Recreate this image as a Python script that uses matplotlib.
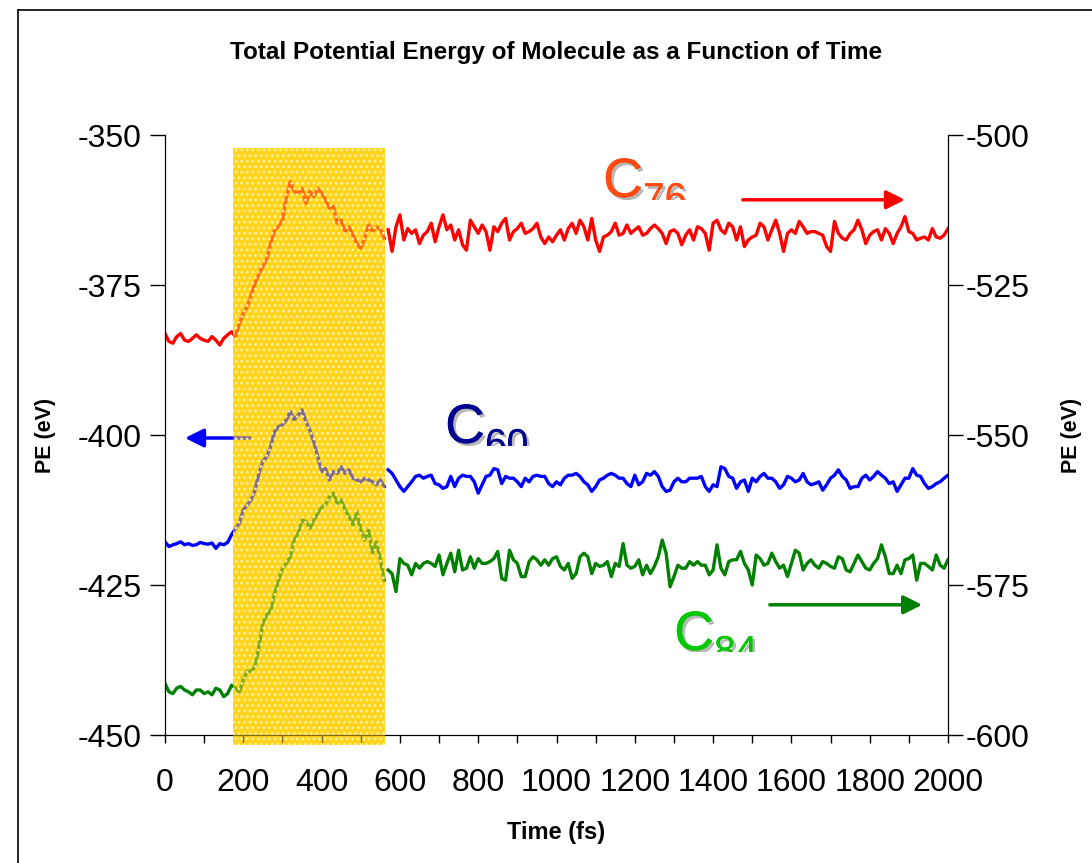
import numpy as np
import matplotlib.pyplot as plt
import matplotlib.patheffects as pe
from matplotlib.transforms import Bbox, TransformedBbox
from matplotlib.lines import Line2D

plt.rcParams['font.family'] = ['Liberation Sans', 'DejaVu Sans']
plt.rcParams['axes.unicode_minus'] = False

# time axis (fs): heating part (0-560) and equilibrated part (570-2000)
t_early = np.arange(0, 561, 10)
t_late = np.arange(570, 2001, 10)

# C60, left axis (eV)
c60_early = [-417.8, -418.6, -418.3, -418.1, -417.8, -418.3, -418.1, -418.4, -418.3, -417.9,
             -418.1, -418.2, -418.0, -418.9, -418.1, -418.3, -417.9, -416.6,
             -415.6, -414.7, -412.5, -411.7, -410.8, -409.2, -406.4, -404.4, -403.6, -401.9,
             -399.4, -398.6, -398.3, -397.5, -396.1, -397.5, -396.7, -395.8, -397.8, -399.2,
             -401.1, -403.6, -406.1, -405.6, -407.5, -406.1, -406.4, -405.3, -406.4, -405.8,
             -407.2, -407.5, -407.8, -407.2, -407.5, -407.8, -408.3, -407.5, -408.6]
c60_late = [-405.8, -406.4, -407.5, -408.6, -409.4, -408.6, -407.8, -406.9, -406.7, -407.2,
            -406.9, -406.7, -408.1, -408.3, -408.9, -408.6, -406.9, -408.6, -407.2, -406.7,
            -406.9, -406.9, -407.8, -409.7, -408.3, -406.9, -406.7, -405.6, -405.8, -408.1,
            -406.9, -407.2, -407.2, -407.8, -408.6, -407.2, -407.8, -406.9, -406.7, -406.9,
            -406.9, -408.1, -408.6, -407.8, -408.3, -407.2, -406.7, -406.7, -406.4, -406.9,
            -407.8, -408.3, -409.4, -408.6, -407.5, -407.2, -406.7, -406.4, -406.7, -407.2,
            -407.2, -408.1, -408.6, -406.7, -408.3, -407.8, -406.4, -406.7, -406.1, -406.9,
            -408.6, -409.4,
            -409.2, -407.8, -407.2, -407.8, -407.8, -407.2, -407.2, -407.2, -406.9, -408.6,
            -409.4, -408.3, -408.6, -405.3, -405.6, -406.9, -407.2, -408.9, -407.8, -407.5,
            -409.4, -407.2, -407.8, -406.9, -406.4, -407.2, -407.2, -407.8, -408.9, -408.3,
            -406.9, -407.2, -407.8, -407.5, -406.4, -407.8, -408.3, -408.1, -407.8, -409.2,
            -408.3, -407.2, -406.7, -405.8, -406.9, -407.5, -408.9, -408.6, -408.6, -407.2,
            -406.7, -407.5, -406.9, -406.1, -406.7, -407.2, -408.1, -407.8, -409.4, -408.3,
            -407.2, -407.2, -405.6, -406.7, -406.9, -408.1, -408.9, -408.6, -408.1, -407.8,
            -407.2, -406.7]

# C76, right axis (eV)
c76_early = [-533.1, -534.4, -534.7, -533.6, -533.1, -534.2, -534.4, -533.9, -533.3, -533.9,
             -534.2, -534.4, -533.6, -534.2, -535.0, -533.9, -533.3, -532.8,
             -533.6, -531.4, -529.7, -528.6, -526.7, -524.7, -523.1, -521.9, -520.6, -518.1,
             -515.8, -515.3, -514.2, -510.3, -507.8, -509.4, -509.7, -508.9, -511.4, -509.4,
             -510.3, -508.9, -509.7, -510.8, -512.2, -511.9, -514.7, -514.2, -516.1, -515.3,
             -516.7, -518.1, -518.9, -517.2, -515.0, -516.1, -515.3, -515.6, -517.2]
c76_late = [-515.8, -519.4, -515.3, -513.3, -517.5, -515.6, -516.4, -515.8, -518.1, -516.7,
            -516.1, -514.7, -517.8, -515.3, -513.3, -515.8, -515.0, -517.5, -515.8, -518.3,
            -519.2, -514.2, -515.3, -516.4, -515.0, -516.1, -519.2, -515.3, -516.1, -514.7,
            -513.9, -517.5, -516.1, -515.6, -514.7, -516.4, -516.1, -515.6, -514.7, -517.0,
            -518.1, -517.0, -517.8, -516.7, -515.8, -517.5, -515.6, -514.7, -516.4, -514.2,
            -515.3, -517.5, -513.9, -517.5, -519.4, -517.0, -516.7, -516.1, -514.7, -516.7,
            -516.4, -515.0, -516.4, -515.8, -515.3, -516.7, -516.4, -515.6, -515.0, -515.6,
            -516.4, -518.1,
            -516.1, -515.8, -516.4, -518.3, -516.7, -515.8, -517.5, -515.3, -515.6, -516.4,
            -519.2, -514.7, -514.2, -515.8, -516.4, -514.7, -515.3, -517.5, -515.3, -518.6,
            -517.5, -517.0, -516.7, -514.7, -515.3, -517.5, -515.8, -514.2, -516.4, -519.4,
            -516.4, -515.8, -516.4, -514.4, -515.3, -516.4, -516.1, -516.1, -516.4, -516.7,
            -518.6, -519.4, -514.4, -516.4, -517.2, -517.5, -516.4, -515.8, -514.2, -515.8,
            -518.1, -516.7, -516.1, -515.8, -517.5, -515.6, -516.4, -518.1, -516.4, -515.3,
            -513.6, -516.1, -516.4, -517.5, -517.2, -517.0, -517.5, -515.6, -517.0, -517.2,
            -516.7, -515.6]

# C84, right axis (eV)
c84_early = [-591.4, -592.8, -593.1, -592.2, -591.9, -592.5, -592.8, -593.3, -592.5, -592.5,
             -593.1, -592.8, -593.3, -592.2, -592.5, -593.6, -593.1, -591.7,
             -592.2, -592.8, -590.8, -589.4, -589.4, -588.6, -585.3, -581.4, -580.0, -579.2,
             -576.4, -574.2, -572.2, -571.4, -570.3, -567.5, -566.4, -564.2, -564.4, -565.6,
             -564.2, -563.1, -562.0, -561.7, -560.3, -559.7, -561.4, -560.8, -562.5, -563.6,
             -565.0, -562.8, -565.8, -567.5, -565.8, -569.7, -567.8, -570.8, -574.2]
c84_late = [-572.5, -573.1, -576.1, -570.6, -571.4, -571.7, -573.3, -571.4, -572.2, -571.4,
            -571.1, -571.4, -571.9, -570.0, -573.3, -571.4, -569.7, -572.8, -569.2, -572.5,
            -572.2, -570.3, -572.2, -570.6, -571.4, -571.4, -571.1, -570.6, -569.4, -573.9,
            -574.2, -569.2, -570.8, -571.4, -573.6, -573.6, -571.1, -570.3, -570.8, -571.7,
            -570.8, -571.7, -570.6, -570.3, -571.9, -572.5, -571.4, -573.9, -573.1, -570.3,
            -569.7, -570.3, -573.1, -571.4, -571.9, -571.7, -571.1, -573.6, -571.4, -571.9,
            -568.1, -571.7, -572.2, -571.9, -570.8, -573.3, -571.7, -573.1, -571.9, -570.3,
            -567.5, -569.7,
            -575.3, -573.6, -571.7, -572.2, -572.2, -571.1, -571.7, -571.1, -571.7, -571.7,
            -573.3, -572.5, -568.3, -572.2, -573.3, -571.1, -570.8, -570.8, -569.4, -571.4,
            -572.5, -575.0, -570.0, -570.6, -571.7, -571.4, -569.7, -571.1, -572.2, -571.7,
            -573.6, -571.4, -569.2, -569.7, -572.5, -571.4, -570.8, -571.7, -572.2, -571.1,
            -571.4, -571.9, -572.2, -570.3, -570.6, -572.5, -572.8, -571.4, -570.0, -571.1,
            -572.2, -572.5, -571.4, -570.6, -568.3, -570.3, -573.1, -573.1, -571.7, -573.1,
            -570.8, -570.6, -570.0, -574.2, -571.4, -571.4, -571.9, -572.5, -570.0, -571.7,
            -572.2, -570.8]

heat_window = (174, 562)

fig = plt.figure(figsize=(10.92, 8.63), dpi=100)
ax = fig.add_axes([165 / 1092, 128 / 863, 783 / 1092, 600 / 863])
ax2 = ax.twinx()

lw = 2.4
ax.plot(t_early, c60_early, color='#0000FF', lw=lw, zorder=2)
ax.plot(t_late, c60_late, color='#0000FF', lw=lw, zorder=2)
ax2.plot(t_early, c76_early, color='#FF0000', lw=lw, zorder=2)
ax2.plot(t_late, c76_late, color='#FF0000', lw=lw, zorder=2)
ax2.plot(t_early, c84_early, color='#008000', lw=lw, zorder=2)
ax2.plot(t_late, c84_late, color='#008000', lw=lw, zorder=2)

# heating window: solid yellow under the curves, textured veil over them
x0, x1 = heat_window
ax.fill_between([x0, x1], -451.7, -352.2, color='#FFD21A', lw=0, zorder=1, clip_on=False)
plt.rcParams['hatch.linewidth'] = 1.2
ax2.fill_between([x0, x1], -601.7, -502.2, facecolor=(1.0, 0.84, 0.1, 0.5),
                 edgecolor=(1.0, 0.95, 0.7, 0.9), hatch='...', lw=0, zorder=5, clip_on=False)

ax.set_xlim(0, 2000)
ax.set_ylim(-450, -350)
ax2.set_ylim(-600, -500)
ax.set_xticks(np.arange(0, 2001, 200))
ax.set_xticks(np.arange(100, 2000, 200), minor=True)
ax.set_yticks(np.arange(-450, -349, 25))
ax2.set_yticks(np.arange(-600, -499, 25))

for a in (ax, ax2):
    a.spines['top'].set_visible(False)
ax.tick_params(axis='x', which='both', direction='out', length=6, width=1, pad=18, labelsize=23)
ax.tick_params(axis='y', direction='out', length=11, width=1, pad=6, labelsize=23)
ax2.tick_params(axis='y', direction='out', length=11, width=1, pad=2, labelsize=23)
ax.set_facecolor('white')

ax.set_title('Total Potential Energy of Molecule as a Function of Time',
             fontsize=17.5, fontweight='bold', y=1.138, va='center', pad=0)
ax.set_xlabel('Time (fs)', fontsize=17, fontweight='bold')
ax.xaxis.set_label_coords(0.5, -0.163)
ax.xaxis.label.set_va('center')
ax.set_ylabel('PE (eV)', fontsize=15.5, fontweight='bold')
ax.yaxis.set_label_coords(-0.153, 0.5)
ax.yaxis.label.set_va('center')
ax2.set_ylabel('PE (eV)', fontsize=15.5, fontweight='bold')
ax2.yaxis.set_label_coords(1.158, 0.5)
ax2.yaxis.label.set_va('center')

# arrows pointing at the axis each curve belongs to
arrow = dict(arrowstyle='-|>', lw=2.5, mutation_scale=28, shrinkA=0, shrinkB=0)
ax2.annotate('', xy=(1890, -510.8), xytext=(1476, -510.8),
             arrowprops=dict(arrow, color='#FF0000'), zorder=6)
ax2.annotate('', xy=(1934, -578.3), xytext=(1545, -578.3),
             arrowprops=dict(arrow, color='#008000'), zorder=6)
ax.annotate('', xy=(51, -400.5), xytext=(217, -400.5),
            arrowprops=dict(arrow, color='#0000FF'), zorder=3)

# molecule labels, shadowed and cut off at the bottom as in the original
shadow = [pe.withSimplePatchShadow(offset=(2, -2), shadow_rgbFace='#999999', alpha=0.7), pe.Normal()]


def label(x, y, sub, color, cut):
    # x, y: pixel position of the baseline of "C"; cut: pixel row where text is cut
    clip = TransformedBbox(Bbox.from_extents(0, 1 - cut / 863, 1, 1), fig.transFigure)
    t1 = fig.text(x / 1092, 1 - y / 863, 'C', fontsize=40, color=color,
                  ha='left', va='baseline', path_effects=shadow)
    t2 = fig.text((x + 40) / 1092, 1 - (y + 13) / 863, sub, fontsize=28, color=color,
                  ha='left', va='baseline', path_effects=shadow)
    for t in (t1, t2):
        t.set_clip_box(clip)
        t.set_clip_on(True)


label(603, 197, '76', '#FF4A10', 200)
label(445, 443, '60', '#000090', 446)
label(674, 650, '84', '#00C800', 652)

# frame around the whole picture
fig.add_artist(Line2D([18 / 1092, 18 / 1092], [0, 1 - 10 / 863], color='black', lw=1.2))
fig.add_artist(Line2D([18 / 1092, 1], [1 - 10 / 863, 1 - 10 / 863], color='black', lw=1.2))

fig.savefig('out.png', dpi=100, facecolor='white')
